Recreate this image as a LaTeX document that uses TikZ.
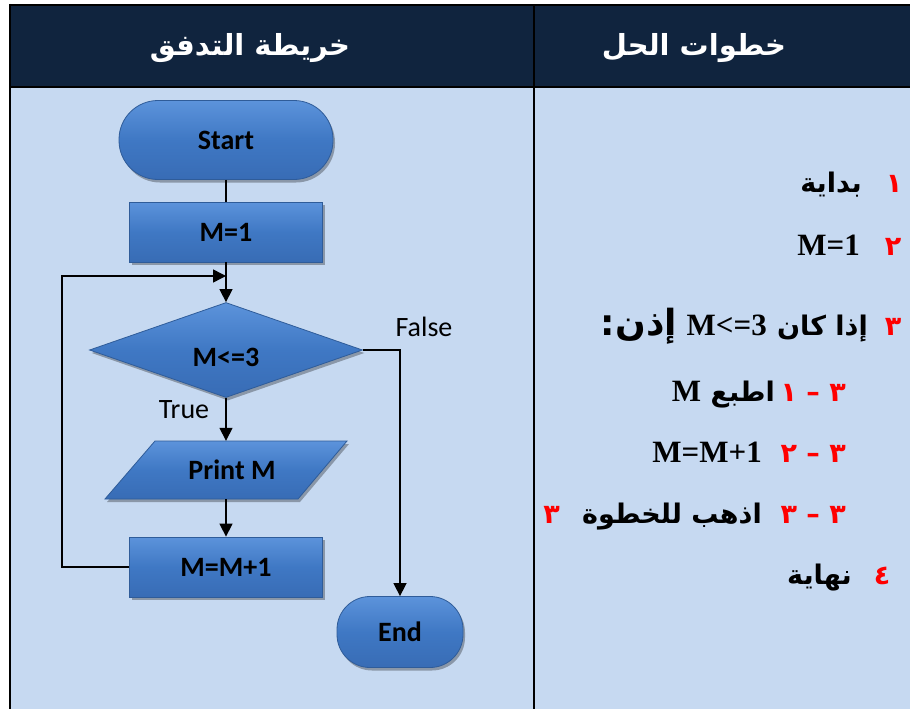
\documentclass[tikz,border=0pt]{standalone}
\usepackage{fontspec}
\usetikzlibrary{shapes.geometric,arrows.meta,shadows}
\TeXXeTstate=1
\newfontfamily\arabicfont[Script=Arabic]{DejaVu Sans}
\newfontfamily\calibrif{Carlito}
\newfontfamily\timesf{Liberation Serif}
\definecolor{bgblue}{HTML}{C6D9F1}
\definecolor{navy}{HTML}{10243E}
\definecolor{shapetop}{HTML}{5C93DB}
\definecolor{shapemid}{HTML}{3F78C4}
\definecolor{shapebot}{HTML}{386CB5}
\definecolor{shapeline}{HTML}{2F5C99}
\definecolor{digred}{HTML}{FF0000}
\begin{document}
\begin{tikzpicture}[x=1pt,y=-1pt,
  flowfill/.style={top color=shapetop, bottom color=shapebot, middle color=shapemid,
    draw=shapeline, line width=0.8pt,
    drop shadow={shadow xshift=2pt, shadow yshift=-3pt, opacity=0.3, fill=black}},
  flowtext/.style={font=\calibrif\bfseries\fontsize{28}{30}\selectfont, text=black},
  flowshape/.style={flowfill, flowtext},
  terminal/.style={flowshape, rectangle, rounded corners=39pt, minimum width=214pt, minimum height=79pt},
  endterm/.style={flowshape, rectangle, rounded corners=33pt, minimum width=126pt, minimum height=71pt},
  procbox/.style={flowshape, rectangle, minimum width=193pt, minimum height=60pt},
  decision/.style={flowshape, diamond, minimum width=273pt, minimum height=95pt, inner sep=0pt},
  conn/.style={line width=1.5pt, black},
  arr/.style={conn, -{Triangle[length=13pt,width=13pt]}},
  lbl/.style={font=\calibrif\fontsize{28}{30}\selectfont, text=black},
  headtxt/.style={font=\arabicfont\bfseries\fontsize{29}{34}\selectfont, text=white},
  arab/.style={font=\arabicfont\bfseries\fontsize{27}{30}\selectfont, text=black, inner sep=0pt},
  lat/.style={font=\timesf\bfseries\fontsize{31}{34}\selectfont, text=black, inner sep=0pt},
  reddig/.style={font=\arabicfont\bfseries\fontsize{27}{30}\selectfont, text=digred, inner sep=0pt},
  frame/.style={black, line width=2.5pt}
]
\useasboundingbox (0,0) rectangle (910,709);
\fill[white] (0,0) rectangle (910,709);
\fill[bgblue] (10,87) rectangle (910,709);
\fill[navy] (10,5) rectangle (910,87);
\draw[frame] (9,5) -- (910,5);
\draw[frame] (9,87) -- (910,87);
\draw[frame] (10,4) -- (10,709);
\draw[frame, line width=2pt] (534,5) -- (534,709);

% header
\node[headtxt] (h1) at (250,48) {\beginR خريطة التدفق\endR};
\node[headtxt] (h2) at (694,48) {\beginR خطوات الحل\endR};

% flowchart
\node[terminal] (start) at (226,140) {Start};
\node[procbox] (m1) at (226,232) {M=1};
\node[decision] (dec) at (226,350) {\raisebox{-7pt}[\height][\depth]{M<=3}};
\path[flowfill] (155,441) -- (347,441) -- (298,499) -- (105,499) -- cycle;
\node[flowtext, minimum height=58pt, minimum width=150pt, inner sep=0pt] (print) at (226,470) {\hspace*{12pt}Print M};
\node[procbox] (inc) at (226,567) {M=M+1};
\node[endterm] (end) at (400,632) {End};

\coordinate (loopcorner) at (62,276);
\coordinate (loopin) at (226,276);

\draw[conn] (start) -- (m1);
\draw[arr] (m1) -- (dec);
\draw[arr] (dec) -- (print);
\draw[arr] (print) -- (inc);
\draw[arr] (inc.west) -| (loopcorner) -- (loopin);
\draw[arr] (dec.east) -| (end.north);

\node[lbl] (lfalse) at (424,327) {False};
\node[lbl] (ltrue) at (184,410) {True};

% solution steps
\node[reddig, anchor=base] (d1) at (894,192) {١};
\node[arab, anchor=base east] (t1) at (862,192) {\beginR بداية\endR};

\node[reddig, anchor=base] (d2) at (893,255) {٢};
\node[lat, anchor=base east] (t2) at (860,255) {M=1};

\node[reddig, anchor=base] (d3) at (893,335) {٣};
\node[arab, anchor=base east] (t3a) at (868,335) {\beginR إذا كان\endR};
\node[lat, anchor=base east] (t3b) at (767,335) {M<=3};
\node[arab, anchor=base east, font=\arabicfont\bfseries\fontsize{36}{40}\selectfont] (t3c) at (677,335) {\beginR إذن:\endR};

\node[reddig, anchor=base east] (d31) at (846,401) {\beginR ٣ – ١\endR};
\node[arab, anchor=base east] (t31a) at (775,401) {\beginR اطبع\endR};
\node[lat, anchor=base east] (t31b) at ([xshift=-9pt]t31a.base west) {M};

\node[reddig, anchor=base east] (d32) at (846,462) {\beginR ٣ – ٢\endR};
\node[lat, anchor=base east] (t32) at (762,462) {M=M+1};

\node[reddig, anchor=base east] (d33) at (846,523) {\beginR ٣ – ٣\endR};
\node[arab, anchor=base east] (t33) at (762,523) {\beginR اذهب للخطوة\endR};
\node[reddig, anchor=base east] (d33b) at ([xshift=-22pt]t33.base west) {٣};

\node[reddig, anchor=base] (d4) at (882,584) {٤};
\node[arab, anchor=base east] (t4) at (852,584) {\beginR نهاية\endR};
\end{tikzpicture}
\end{document}
